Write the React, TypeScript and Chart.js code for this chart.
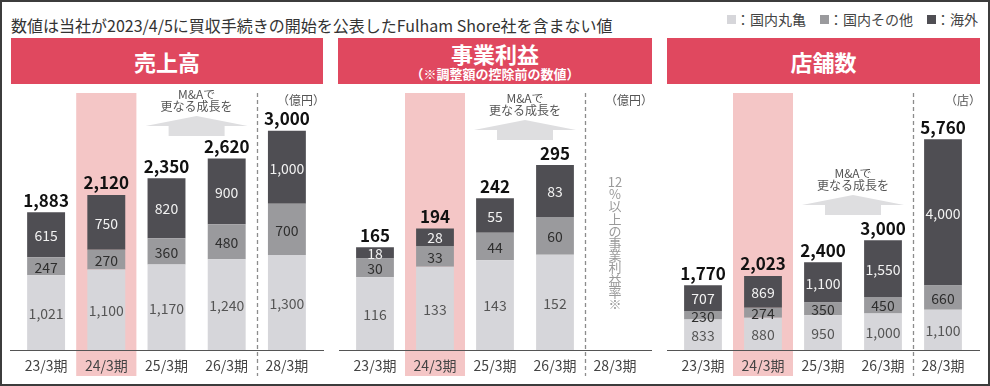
import React, { useEffect, useRef } from 'react';
import { Chart, registerables } from 'chart.js';

Chart.register(...registerables);

const FONT = '"Noto Sans CJK JP", "Noto Sans", sans-serif';

// ---- data ----
const categories = ['23/3期', '24/3期', '25/3期', '26/3期', '28/3期'];
const seriesNames = ['国内丸亀', '国内その他', '海外'];

const salesDomestic = [1021, 1100, 1170, 1240, 1300];
const salesOther = [247, 270, 360, 480, 700];
const salesOverseas = [615, 750, 820, 900, 1000];
const salesTotal = [1883, 2120, 2350, 2620, 3000];

const profitDomestic = [116, 133, 143, 152, null];
const profitOther = [30, 33, 44, 60, null];
const profitOverseas = [18, 28, 55, 83, null];
const profitTotal = [165, 194, 242, 295, null];

const storesDomestic = [833, 880, 950, 1000, 1100];
const storesOther = [230, 274, 350, 450, 660];
const storesOverseas = [707, 869, 1100, 1550, 4000];
const storesTotal = [1770, 2023, 2400, 3000, 5760];

const profitNote = ['12', '%', '以', '上', 'の', '事', '業', '利', '益', '率', '※'];

// ---- styles ----
const seriesColors = ['#d6d6da', '#9a9a9d', '#4f4e53'];
const labelColors = ['#555555', '#2e2e2e', '#f2f2f2'];
const HEADER_RED = '#e0485f';

type PanelCfg = {
  key: string;
  left: number;
  padL: number;
  padR: number;
  yMax: number;
  series: (number | null)[][];
  totals: (number | null)[];
  unit: string;
  arrowTop: number;
  note?: string[];
};

const fmt = (v: number) => v.toLocaleString('en-US');

function makeDecor(p: PanelCfg) {
  return {
    id: 'decor' + p.key,
    beforeDraw(chart: any) {
      const { ctx, chartArea: ca } = chart;
      const x = chart.scales.x;
      const step = x.getPixelForValue(1) - x.getPixelForValue(0);
      ctx.save();
      // highlight column (24/3期)
      const hx = x.getPixelForValue(1);
      ctx.fillStyle = '#f4c6c6';
      ctx.fillRect(hx - step / 2, ca.top, step, ca.bottom + 26 - ca.top);
      // dashed separator
      const dx = Math.round((x.getPixelForValue(3) + x.getPixelForValue(4)) / 2) + 0.5;
      ctx.strokeStyle = '#8c8c8c';
      ctx.lineWidth = 1.3;
      ctx.setLineDash([4, 3]);
      ctx.beginPath();
      ctx.moveTo(dx, ca.top);
      ctx.lineTo(dx, ca.bottom + 26);
      ctx.stroke();
      ctx.setLineDash([]);
      // baseline
      ctx.strokeStyle = '#555555';
      ctx.lineWidth = 1;
      ctx.beginPath();
      ctx.moveTo(ca.left - 6, ca.bottom + 0.5);
      ctx.lineTo(ca.right + 7, ca.bottom + 0.5);
      ctx.stroke();
      // unit
      ctx.fillStyle = '#555555';
      ctx.font = `12px ${FONT}`;
      ctx.textAlign = 'right';
      ctx.textBaseline = 'middle';
      ctx.fillText(p.unit, ca.right + 8, ca.top + 7);
      // growth arrow
      const ax = (x.getPixelForValue(2) + x.getPixelForValue(3)) / 2;
      const py = ca.top + p.arrowTop;
      ctx.fillStyle = '#dedee0';
      ctx.beginPath();
      ctx.moveTo(ax - 51, py + 10);
      ctx.lineTo(ax, py);
      ctx.lineTo(ax + 51, py + 10);
      ctx.lineTo(ax + 28, py + 10);
      ctx.lineTo(ax + 28, py + 20);
      ctx.lineTo(ax - 28, py + 20);
      ctx.lineTo(ax - 28, py + 10);
      ctx.closePath();
      ctx.fill();
      ctx.fillStyle = '#555555';
      ctx.font = `12px ${FONT}`;
      ctx.textAlign = 'center';
      ctx.fillText('M&Aで', ax, py - 22);
      ctx.fillText('更なる成長を', ax, py - 10);
      // vertical note
      if (p.note) {
        const nx = x.getPixelForValue(4);
        ctx.fillStyle = '#9a9a9a';
        ctx.font = `13px ${FONT}`;
        p.note.forEach((ch, i) => {
          ctx.fillText(ch, nx, ca.top + 89 + i * 12.2);
        });
      }
      ctx.restore();
    },
    afterDatasetsDraw(chart: any) {
      const { ctx } = chart;
      ctx.save();
      ctx.textAlign = 'center';
      ctx.textBaseline = 'middle';
      const metas = p.series.map((_, i) => chart.getDatasetMeta(i));
      metas.forEach((meta: any, di: number) => {
        meta.data.forEach((el: any, i: number) => {
          const v = p.series[di][i];
          if (v == null) return;
          const pr = el.getProps(['x', 'y', 'base'], true);
          ctx.fillStyle = labelColors[di];
          ctx.font = `14px ${FONT}`;
          ctx.fillText(fmt(v), pr.x, (pr.y + pr.base) / 2 + 1);
        });
      });
      const topMeta = metas[metas.length - 1];
      p.totals.forEach((t, i) => {
        if (t == null) return;
        const el = topMeta.data[i];
        const pr = el.getProps(['x', 'y'], true);
        ctx.fillStyle = '#111111';
        ctx.font = `bold 17px ${FONT}`;
        ctx.fillText(fmt(t), pr.x, pr.y - 12);
      });
      ctx.restore();
    },
  };
}

const panels: PanelCfg[] = [
  {
    key: 'sales', left: 0, padL: 16, padR: 13, yMax: 3515,
    series: [salesDomestic, salesOther, salesOverseas], totals: salesTotal,
    unit: '（億円）', arrowTop: 23,
  },
  {
    key: 'profit', left: 330, padL: 15, padR: 15, yMax: 410,
    series: [profitDomestic, profitOther, profitOverseas], totals: profitTotal,
    unit: '（億円）', arrowTop: 27, note: profitNote,
  },
  {
    key: 'stores', left: 660, padL: 13, padR: 17, yMax: 7020,
    series: [storesDomestic, storesOther, storesOverseas], totals: storesTotal,
    unit: '（店）', arrowTop: 102,
  },
];

function Panel({ cfg }: { cfg: PanelCfg }) {
  const ref = useRef<HTMLCanvasElement | null>(null);
  useEffect(() => {
    if (!ref.current) return;
    const chart = new Chart(ref.current, {
      type: 'bar',
      data: {
        labels: categories,
        datasets: cfg.series.map((d, i) => ({
          label: seriesNames[i],
          data: d as any,
          backgroundColor: seriesColors[i],
          borderWidth: 0,
          barPercentage: 0.63,
          categoryPercentage: 1,
          stack: 's',
        })),
      },
      options: {
        responsive: true,
        maintainAspectRatio: false,
        animation: false,
        events: [],
        layout: { padding: { left: cfg.padL, right: cfg.padR, top: 7, bottom: 0 } },
        plugins: { legend: { display: false }, tooltip: { enabled: false } },
        scales: {
          x: {
            stacked: true,
            grid: { display: false, drawTicks: false, tickLength: 0 },
            border: { display: false },
            ticks: {
              color: '#444444',
              font: { size: 14, family: FONT },
              padding: 7,
              maxRotation: 0,
              autoSkip: false,
            },
            afterFit: (s: any) => { s.height = 36; },
          },
          y: { stacked: true, display: false, min: 0, max: cfg.yMax },
        },
      },
      plugins: [makeDecor(cfg)],
    });
    return () => chart.destroy();
  }, [cfg]);
  return (
    <div style={{ position: 'absolute', left: cfg.left, top: 86, width: 330, height: 300 }}>
      <canvas ref={ref} />
    </div>
  );
}

const headerBase: React.CSSProperties = {
  position: 'absolute', top: 38, height: 46, background: HEADER_RED, color: '#fff',
  fontFamily: FONT, fontWeight: 700, textAlign: 'center',
};

export default function App() {
  return (
    <div style={{ position: 'absolute', left: 0, top: 0, width: 990, height: 386, background: '#fff', overflow: 'hidden', fontFamily: FONT }}>
      <div style={{ position: 'absolute', left: 11, top: 15, lineHeight: '20px', fontSize: 16, color: '#333', whiteSpace: 'nowrap' }}>
        数値は当社が2023/4/5に買収手続きの開始を公表したFulham Shore社を含まない値
      </div>
      <div style={{ position: 'absolute', right: 12, top: 10, height: 19, display: 'flex', alignItems: 'center', gap: 14, fontSize: 14, color: '#444', whiteSpace: 'nowrap' }}>
        {seriesNames.map((n, i) => (
          <div key={n} style={{ display: 'flex', alignItems: 'center' }}>
            <span style={{ display: 'inline-block', width: 9, height: 9, background: seriesColors[i] }} />
            <span style={{ lineHeight: '19px' }}>：{n}</span>
          </div>
        ))}
      </div>
      <div style={{ ...headerBase, left: 11, width: 312, fontSize: 22, lineHeight: '46px' }}>売上高</div>
      <div style={{ ...headerBase, left: 338, width: 314 }}>
        <div style={{ position: 'absolute', left: 0, right: 0, top: 2, height: 27, lineHeight: '27px', fontSize: 22 }}>事業利益</div>
        <div style={{ position: 'absolute', left: 0, right: 0, top: 28, height: 15, lineHeight: '15px', fontSize: 13 }}>（※調整額の控除前の数値）</div>
      </div>
      <div style={{ ...headerBase, left: 667, width: 313, fontSize: 22, lineHeight: '46px' }}>店舗数</div>
      {panels.map((p) => <Panel key={p.key} cfg={p} />)}
      <div style={{ position: 'absolute', left: 0, top: 0, width: 990, height: 386, border: '2px solid #3c3c3c', boxSizing: 'border-box', pointerEvents: 'none' }} />
    </div>
  );
}
